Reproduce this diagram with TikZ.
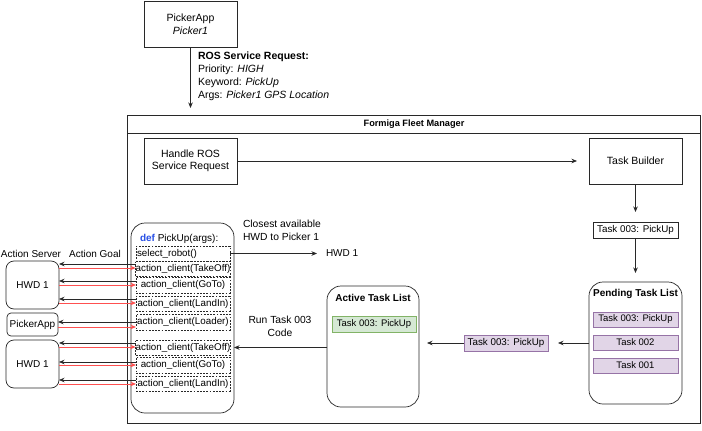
\documentclass[tikz,border=0pt]{standalone}
\usepackage{fontspec}
\setmainfont{Liberation Sans}
\usetikzlibrary{arrows.meta,calc}
\definecolor{ln}{RGB}{40,40,40}
\definecolor{redarr}{RGB}{255,80,80}
\definecolor{defblue}{RGB}{40,80,230}
\definecolor{purfill}{RGB}{225,213,231}
\definecolor{purdraw}{RGB}{150,115,166}
\definecolor{grfill}{RGB}{213,232,212}
\definecolor{grdraw}{RGB}{130,179,102}
\tikzset{
  base/.style={font=\fontsize{10}{12}\selectfont, inner sep=0pt, outer sep=0pt},
  box/.style={base, draw=ln, line width=0.7pt, fill=white, align=center},
  bigbox/.style={box, font=\fontsize{10.5}{12.5}\selectfont},
  rbox/.style={box, rounded corners=14pt},
  sbox/.style={box, rounded corners=8pt},
  dbox/.style={base, draw=ln, line width=0.6pt, dashed, dash pattern=on 1.8pt off 1.4pt, minimum width=94pt, align=center, font=\fontsize{9.8}{12}\selectfont},
  pitem/.style={base, draw=purdraw, fill=purfill, line width=0.6pt, minimum width=85pt, minimum height=15pt, font=\fontsize{9.5}{11}\selectfont},
  gitem/.style={base, draw=grdraw, fill=grfill, line width=0.6pt, minimum width=84pt, minimum height=16pt, font=\fontsize{9.5}{11}\selectfont},
  lbl/.style={base, align=center},
  ttl/.style={base, font=\fontsize{10}{12}\selectfont\bfseries},
  tip/.style={-{Stealth[length=5.5pt,width=4.5pt]}},
  conn/.style={tip, draw=ln, line width=0.7pt},
  rconn/.style={tip, draw=redarr, line width=0.9pt},
}
\begin{document}
\begin{tikzpicture}[x=1pt,y=-1pt]
\useasboundingbox (0,0) rectangle (702,431);
\fill[white] (0,0) rectangle (702,431);

% top picker app
\node[bigbox, minimum width=93pt, minimum height=46pt] (picker) at (190.5,24) {PickerApp\\\textit{Picker1}};
\node[base, anchor=north west, align=left, font=\fontsize{10.5}{13}\selectfont] (ros) at (198,52)
  {\textbf{ROS Service Request:}\\Priority: \textit{HIGH}\\Keyword: \textit{PickUp}\\Args: \textit{Picker1 GPS Location}};

% fleet manager container
\node[base, draw=ln, line width=0.8pt, minimum width=573pt, minimum height=308pt] (fleet) at (413.5,269) {};
\draw[ln, line width=0.7pt] ([yshift=-18pt]fleet.north west) -- ([yshift=-18pt]fleet.north east);
\node[base, font=\fontsize{9.2}{11}\selectfont\bfseries] (fleettitle) at (414,124.5) {Formiga Fleet Manager};
\draw[conn, shorten >=7pt] (picker.south) -- (fleet.north -| picker.south);

\node[bigbox, minimum width=93pt, minimum height=46pt] (handle) at (190.5,161) {Handle ROS\\Service Request};
\node[bigbox, minimum width=93pt, minimum height=46pt] (tb) at (635.5,161) {Task Builder};
\draw[conn, shorten >=12pt] (handle.east) -- (tb.west);

\node[box, minimum width=85pt, minimum height=16pt, font=\fontsize{9.8}{11}\selectfont] (t3a) at (635.5,230) {Task 003: PickUp};
\draw[conn, shorten >=10pt] (tb.south) -- (t3a.north);

% pending list
\node[rbox, minimum width=93pt, minimum height=122pt] (pend) at (635.5,343) {};
\node[ttl] (pendt) at (635.5,293.5) {Pending Task List};
\node[pitem] (p1) at (635.5,319.5) {Task 003: PickUp};
\node[pitem] (p2) at (635.5,342.5) {Task 002};
\node[pitem] (p3) at (635.5,365.5) {Task 001};
\draw[conn, shorten >=9pt] (t3a.south) -- (pend.north);

\node[pitem, minimum width=84pt, minimum height=16pt, font=\fontsize{9.8}{11}\selectfont] (t3b) at (506,343) {Task 003: PickUp};
\draw[conn, shorten >=10pt] (pend.west |- t3b) -- (t3b.east);

% active list
\node[rbox, minimum width=92pt, minimum height=121pt] (active) at (373,346.5) {};
\node[ttl] (activet) at (373,297.5) {Active Task List};
\node[gitem] (a1) at (374,324) {Task 003: PickUp};
\draw[conn, shorten >=8pt] (t3b.west) -- (t3b.west -| active.east);

% PickUp function
\node[rbox, minimum width=103pt, minimum height=190pt] (pickup) at (182.5,318) {};
\node[base, anchor=west] (deft) at (140,238.5) {\textcolor{defblue}{\textbf{def}} PickUp(args):};
\node[dbox, minimum height=15pt] (sel) at (183,253.5) {\makebox[92pt][l]{select\_robot()}};
\node[dbox, minimum height=15pt] (tk1) at (183,268.5) {action\_client(TakeOff)};
\node[dbox, minimum height=16pt] (gt1) at (183,285) {action\_client(GoTo)};
\node[dbox, minimum height=15pt] (li1) at (183,303.5) {action\_client(LandIn)};
\node[dbox, minimum height=16pt] (ld) at (183,322) {action\_client(Loader)};
\node[dbox, minimum height=15pt] (tk2) at (183,347.5) {action\_client(TakeOff)};
\node[dbox, minimum height=16pt] (gt2) at (183,365) {action\_client(GoTo)};
\node[dbox, minimum height=15pt] (li2) at (183,383.5) {action\_client(LandIn)};

\draw[conn] (active.west |- tk2) -- (pickup.east |- tk2);
\node[lbl, font=\fontsize{10.3}{13}\selectfont] (runlbl) at (280,326.5) {Run Task 003\\Code};

\node[base, anchor=west] (hwdt) at (326,253.5) {HWD 1};
\draw[conn, shorten >=9pt] (sel.east) -- (hwdt.west);
\node[base, anchor=west, align=left, font=\fontsize{10.3}{12.5}\selectfont] (closest) at (243,230.5) {Closest available\\HWD to Picker 1};

% left side servers
\node[sbox, minimum width=53pt, minimum height=48pt] (hwdA) at (32.5,285) {HWD 1};
\node[box, rounded corners=4pt, minimum width=51pt, minimum height=23pt] (pk) at (32.5,324.5) {PickerApp};
\node[sbox, minimum width=53pt, minimum height=48pt] (hwdB) at (32.5,364) {HWD 1};
\node[lbl] (aserv) at (31,253.5) {Action Server};
\node[lbl] (agoal) at (95,253.5) {Action Goal};

\foreach \n/\h/\b/\r in {tk1/hwdA/4.5/0.5, gt1/hwdA/4/0, li1/hwdA/4.5/0.5, ld/pk/0/-5, tk2/hwdB/4.5/0.5, gt2/hwdB/3/0, li2/hwdB/3.5/-0.5}{
  \draw[conn] ([yshift=\b pt]\n.west) -- ([yshift=\b pt]\n.west -| \h.east);
  \draw[rconn] ([yshift=\r pt]\n.west -| \h.east) -- ([yshift=\r pt]\n.west);
}
\end{tikzpicture}
\end{document}
